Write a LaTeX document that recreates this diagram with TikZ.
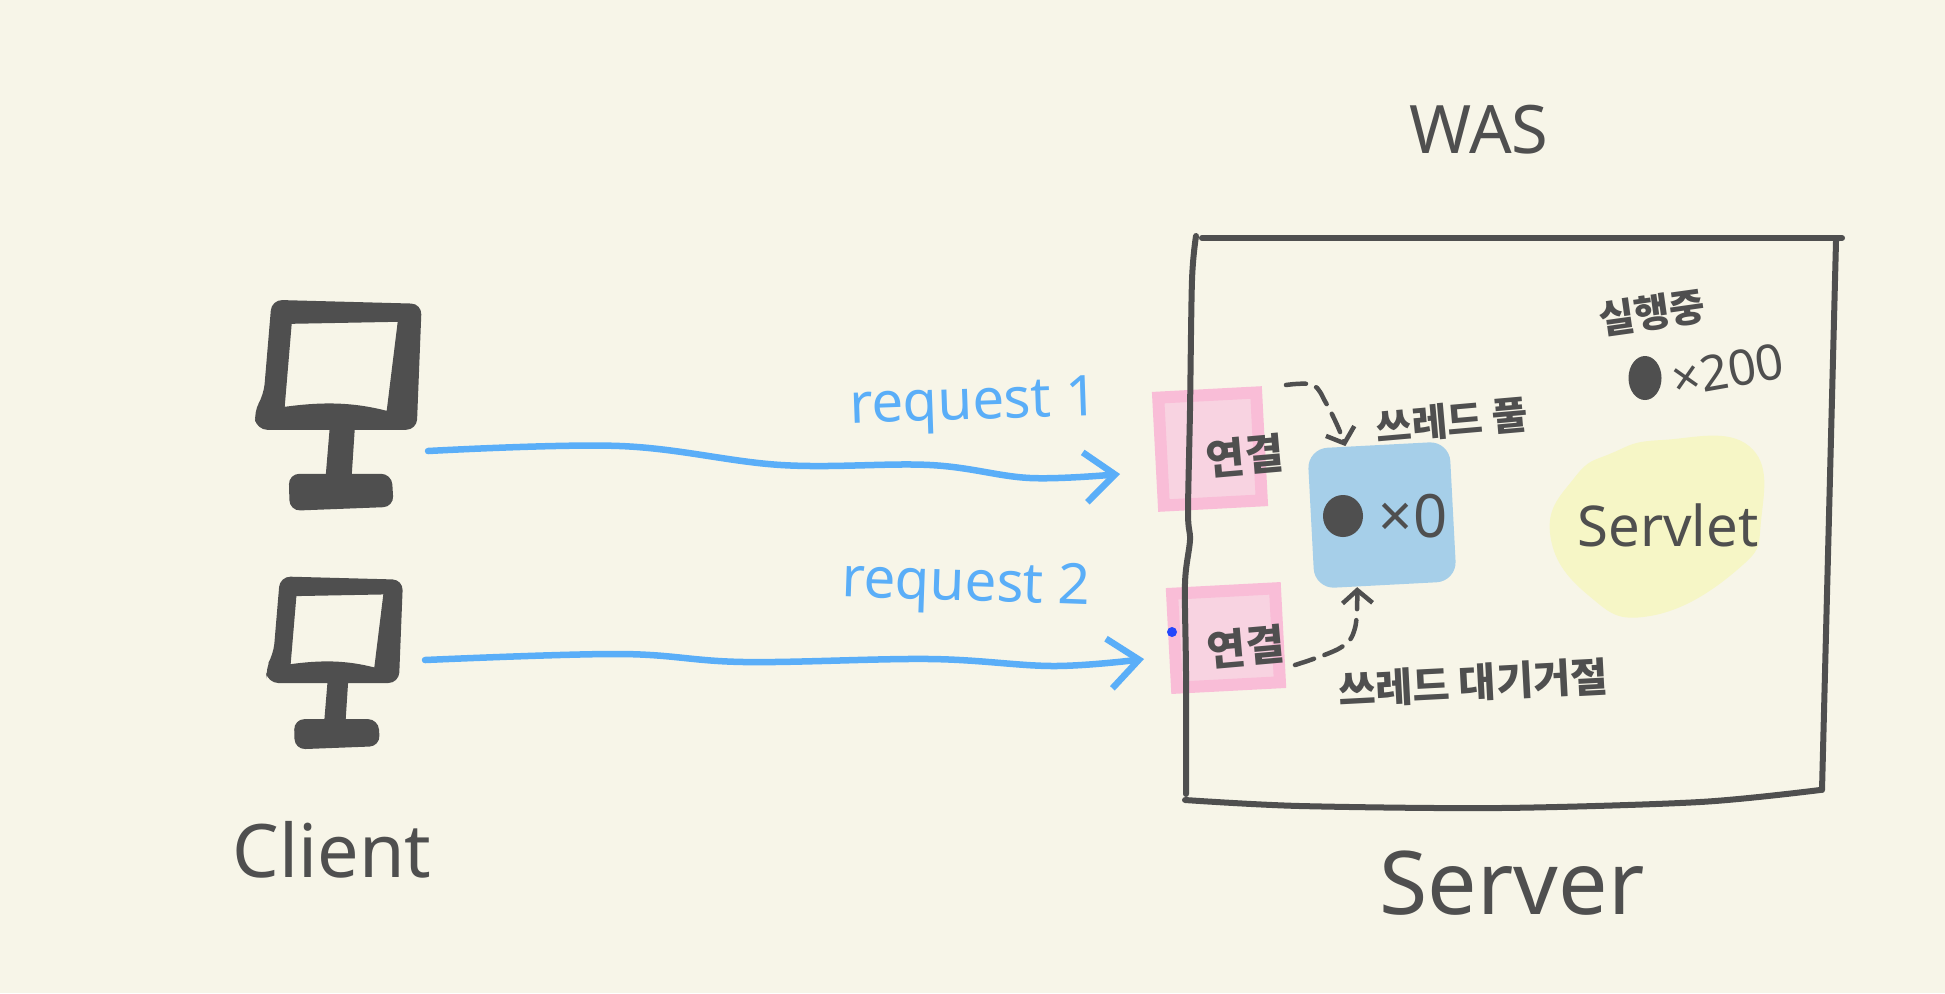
\documentclass[tikz,border=0pt]{standalone}
\usepackage{fontspec}
\setmainfont{Noto Sans}
\newfontfamily\hangul{Noto Sans CJK KR}
\usetikzlibrary{arrows.meta,shapes.geometric}
\definecolor{paperbg}{HTML}{F7F5E8}
\definecolor{inkgray}{HTML}{4F4F4F}
\definecolor{reqblue}{HTML}{5AAEF8}
\definecolor{pinkedge}{HTML}{F9BDD7}
\definecolor{pinkfill}{HTML}{F8D3E1}
\definecolor{poolblue}{HTML}{A6CFE9}
\definecolor{servletyellow}{HTML}{F6F6C6}
\newcommand{\hand}[1]{\fontsize{#1}{#1}\selectfont}
\tikzset{
  monitor/.pic={
    \fill[inkgray,even odd rule] [rounded corners=3pt] (0,0) -- (150,4) -- (145,130) -- (-15,130) -- (-18,112) -- (-8,95) -- cycle
      [sharp corners] (20,24) -- (126,22) -- (115,111) .. controls (80,102) and (50,102) .. (13,107) -- cycle;
    \fill[inkgray] (58,128) -- (83,130) -- (80,176) -- (54,176) -- cycle;
    \fill[inkgray,rounded corners=3pt] (17,174) -- (120,174) -- (122,207) -- (18,211) -- cycle;
  }
}
\begin{document}
\begin{tikzpicture}[x=0.01cm,y=-0.01cm,
    ink/.style={inkgray,line width=0.06cm,line cap=round,line join=round},
    req/.style={reqblue,line width=0.065cm,line cap=round,-{Straight Barb[length=0.3cm,width=0.5cm]}},
    hop/.style={ink,line width=0.045cm,dash pattern=on 0.2cm off 0.11cm,-{Straight Barb[length=0.13cm,width=0.3cm]}},
    conn/.style={draw=pinkedge,fill=pinkfill,line width=0.12cm,inner sep=0pt},
    note/.style={text=inkgray,inner sep=0pt},
    dot/.style={ellipse,fill=inkgray,inner sep=0pt}]
      \fill[paperbg] (0,0) rectangle (1945,993);
      \useasboundingbox (0,0) rectangle (1945,993);
      \pic at (271.7,299.8) {monitor};
      \pic[scale=0.82] at (280,576.4) {monitor};
      \coordinate (pc1) at (428,451);
      \coordinate (pc2) at (425,660);
      \coordinate (gate1) at (1120,474);
      \coordinate (gate2) at (1144,659);
      \coordinate (wait1) at (1286,385);
      \coordinate (wait2) at (1295,665);
      \fill[servletyellow] plot[smooth cycle,tension=0.8] coordinates {(1662,440) (1749,446) (1761,521) (1737,570) (1650,616) (1588,595) (1550,533) (1575,477) (1612,453)};
      \node[conn,rotate=3,minimum width=0.98cm,minimum height=1.08cm] (conn1) at (1210,449) {};
      \node[conn,rotate=3,minimum width=1.03cm,minimum height=0.94cm] (conn2) at (1226,638) {};
      \node[fill=poolblue,rounded corners=0.2cm,rotate=3,minimum width=1.42cm,minimum height=1.4cm] (pool) at (1382,515) {};
      \draw[ink] plot[smooth,tension=0.5] coordinates {(1196,236) (1192,280) (1190,410) (1188,513) (1190,540) (1185,583) (1186,673) (1186,794)};
      \draw[ink] (1202,238) -- (1842,238);
      \draw[ink] (1836,241) -- (1822,790);
      \draw[ink] plot[smooth] coordinates {(1185,800) (1300,806) (1500,808) (1700,802) (1820,790)};
      \fill[blue!60!reqblue] (1172,632) circle (5);
      \draw[req] plot[smooth,tension=0.6] coordinates {(pc1) (620,446) (781,465) (930,465) (1030,478) (gate1)};
      \draw[req] plot[smooth,tension=0.6] coordinates {(pc2) (620,654) (744,662) (930,659) (1054,666) (gate2)};
      \draw[hop] plot[smooth,tension=0.6] coordinates {(wait1) (1313,385) (1326,403) (1338,427) (pool.115)};
      \draw[hop] plot[smooth,tension=0.6] coordinates {(wait2) (1340,648) (1355,628) (pool.248)};
      \node[note,rotate=5] (conn1text) at (1245,456) {\hangul\bfseries\hand{12pt}연결};
      \node[note,rotate=5] (conn2text) at (1246,647) {\hangul\bfseries\hand{12pt}연결};
      \node[dot,minimum width=0.4cm,minimum height=0.42cm] (pooldot) at (1343,516) {};
      \node[note] (poolcount) at (1413,516) {\hand{17pt}×0};
      \node[note,rotate=5] (pooltext) at (1452,421) {\hangul\bfseries\hand{11pt}쓰레드 풀};
      \node[note,rotate=3] (waittext) at (1473,683) {\hangul\bfseries\hand{11.5pt}쓰레드 대기거절};
      \node[dot,minimum width=0.33cm,minimum height=0.44cm] (busydot) at (1645,378) {};
      \node[note,rotate=10] (busycount) at (1728,370) {\hand{14pt}×200};
      \node[note,rotate=8] (busytext) at (1652,313) {\hangul\bfseries\hand{11pt}실행중};
      \node[note] (servlet) at (1668,525) {\hand{16pt}Servlet};
      \node[note] (was) at (1479,130) {\hand{19pt}WAS};
      \node[note] (server) at (1512,883) {\hand{25pt}Server};
      \node[note] (client) at (332,850) {\hand{21pt}Client};
      \node[text=reqblue,inner sep=0pt,rotate=2] (req1) at (974,406) {\hand{16pt}request 1};
      \node[text=reqblue,inner sep=0pt,rotate=-2] (req2) at (966,587) {\hand{16pt}request 2};
    \end{tikzpicture}
\end{document}
